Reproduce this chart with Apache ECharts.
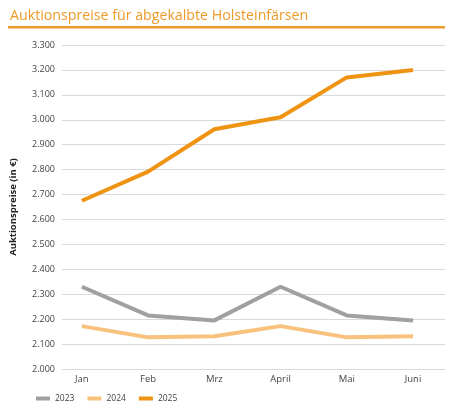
<!DOCTYPE html>
<html>
<head>
<meta charset="utf-8">
<script src="https://cdn.jsdelivr.net/npm/echarts@6/dist/echarts.min.js"></script>
<style>
  html, body { margin: 0; padding: 0; background: #fff; }
  #main { width: 450px; height: 414px; }
</style>
</head>
<body>
<div id="main"></div>
<script>
// Monate und Auktionspreise (in €)
var months = ['Jan', 'Feb', 'Mrz', 'April', 'Mai', 'Juni'];
var years = ['2023', '2024', '2025'];
var preise2023 = [2330, 2215, 2195, 2330, 2215, 2195];
var preise2024 = [2172, 2127, 2131, 2172, 2127, 2131];
var preise2025 = [2675, 2792, 2962, 3010, 3170, 3200];
var yTicks = [2000, 2100, 2200, 2300, 2400, 2500, 2600, 2700, 2800, 2900, 3000, 3100, 3200, 3300];

var font = '"Open Sans", "Noto Sans", sans-serif';

function pairs(arr) {
    return arr.map(function (v, i) { return [i, v]; });
}

var chart = echarts.init(document.getElementById('main'));

var option = {
    backgroundColor: '#fff',
    animation: false,
    title: {
        text: 'Auktionspreise für abgekalbte Holsteinfärsen',
        left: 5,
        top: 4,
        textStyle: {
            color: '#EE9A28',
            fontFamily: font,
            fontSize: 14.2,
            fontWeight: 'normal'
        }
    },
    graphic: [
        {
            type: 'rect',
            shape: { x: 8, y: 26, width: 437, height: 2.5 },
            style: { fill: '#EE9A28' },
            silent: true
        }
    ],
    legend: {
        left: 31,
        top: 389,
        itemWidth: 14,
        itemHeight: 4,
        itemGap: 13,
        icon: 'rect',
        textStyle: { fontFamily: font, fontSize: 8.5, color: '#444' },
        data: years
    },
    grid: {
        left: 62,
        right: 5,
        top: 45,
        bottom: 45
    },
    xAxis: {
        type: 'value',
        min: -0.3,
        max: 5.483,
        splitLine: { show: false },
        axisLine: { show: false },
        axisTick: { show: false },
        axisLabel: {
            customValues: [0, 1, 2, 3, 4, 5],
            formatter: function (v) { return months[Math.round(v)]; },
            fontFamily: font,
            fontSize: 9.5,
            color: '#444',
            margin: 5
        }
    },
    yAxis: {
        type: 'value',
        min: yTicks[0],
        max: yTicks[yTicks.length - 1],
        interval: 100,
        name: 'Auktionspreise (in €)',
        nameLocation: 'middle',
        nameGap: 44,
        nameTextStyle: {
            fontFamily: font,
            fontSize: 9.5,
            fontWeight: 'bold',
            color: '#222'
        },
        axisLine: { show: false },
        axisTick: { show: false },
        splitLine: { lineStyle: { color: '#d9d9d9', width: 1 } },
        axisLabel: {
            fontFamily: font,
            fontSize: 9,
            color: '#444',
            margin: 7,
            formatter: function (v) {
                return String(v).replace(/\B(?=(\d{3})+(?!\d))/g, '.');
            }
        }
    },
    series: [
        {
            name: '2023',
            type: 'line',
            symbol: 'none',
            color: '#A0A0A0',
            lineStyle: { width: 4, color: '#A0A0A0' },
            data: pairs(preise2023)
        },
        {
            name: '2024',
            type: 'line',
            symbol: 'none',
            color: '#F8C27C',
            lineStyle: { width: 4, color: '#F8C27C' },
            data: pairs(preise2024)
        },
        {
            name: '2025',
            type: 'line',
            symbol: 'none',
            color: '#EF9312',
            lineStyle: { width: 4, color: '#EF9312' },
            data: pairs(preise2025)
        }
    ]
};

chart.setOption(option);
</script>
</body>
</html>
